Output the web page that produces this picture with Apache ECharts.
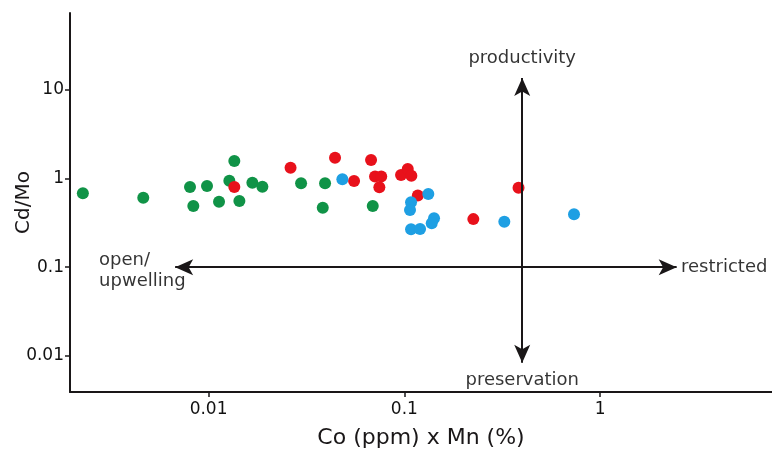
<!DOCTYPE html>
<html>
<head>
<meta charset="utf-8">
<script src="https://cdn.jsdelivr.net/npm/echarts@6/dist/echarts.min.js"></script>
<style>
  html, body { margin: 0; padding: 0; background: #fff; }
  #main { width: 772px; height: 450px; }
</style>
</head>
<body>
<div id="main"></div>
<script>
// Co(ppm) x Mn(%) vs Cd/Mo, three sample groups
var greenPts = [
  [0.00228, 0.678], [0.00464, 0.605], [0.00804, 0.798], [0.00836, 0.488], [0.00982, 0.819],
  [0.01354, 1.565], [0.01277, 0.940], [0.01674, 0.892], [0.01883, 0.804], [0.01131, 0.545],
  [0.01437, 0.555], [0.02969, 0.878], [0.03936, 0.878], [0.03831, 0.467], [0.06897, 0.488]
];
var redPts = [
  [0.01354, 0.798], [0.02623, 1.316], [0.04426, 1.705], [0.05535, 0.932], [0.06760, 1.606],
  [0.07086, 1.048], [0.07621, 1.048], [0.07453, 0.792], [0.09619, 1.089], [0.1041, 1.272],
  [0.1086, 1.070], [0.1172, 0.640], [0.2251, 0.347], [0.3831, 0.784]
];
var bluePts = [
  [0.04824, 0.974], [0.1326, 0.666], [0.1082, 0.537], [0.1069, 0.440], [0.1418, 0.355],
  [0.1380, 0.312], [0.1082, 0.267], [0.1203, 0.269], [0.3241, 0.325], [0.7356, 0.394]
];

// axis ranges and labelled ticks
var xRange = [0.00196, 7.55];
var yRange = [0.00394, 72.3];
var tickLabels = ['0.01', '0.1', '1', '10'];

// arrows (data coords, tip to tip) and annotation texts
var vArrow = [[0.4, 13.4], [0.4, 0.0084]];
var hArrow = [[0.00675, 0.1], [2.46, 0.1]];
var notes = [
  { name: 'productivity', value: [0.4, 22.6], align: 'center' },
  { name: 'preservation', value: [0.4, 0.00538], align: 'center' },
  { name: 'restricted', value: [2.59, 0.1], align: 'left' },
  { name: 'open/\nupwelling', value: [0.00276, 0.0906], align: 'left' }
];

var txtFont = 'DejaVu Sans';
var ink = '#1a1718';

function tickFmt(v) {
  var s = String(+v.toPrecision(6));
  return tickLabels.indexOf(s) >= 0 ? s : '';
}

var chart = echarts.init(document.getElementById('main'));
var option = {
  animation: false,
  backgroundColor: '#fff',
  grid: { left: 70, right: 0, top: 13, bottom: 58, outerBoundsMode: 'none', containLabel: false },
  xAxis: {
    type: 'log',
    logBase: 10,
    min: xRange[0],
    max: xRange[1],
    name: 'Co (ppm) x Mn (%)',
    nameLocation: 'middle',
    nameGap: 35,
    nameMoveOverlap: false,
    nameTextStyle: { fontFamily: txtFont, fontSize: 22, color: ink },
    axisLine: { lineStyle: { color: ink, width: 2 } },
    axisTick: { length: 5, lineStyle: { color: ink, width: 1.5 } },
    axisLabel: { formatter: tickFmt, fontFamily: txtFont, fontSize: 17, color: '#111', margin: 9, showMinLabel: false, showMaxLabel: false },
    splitLine: { show: false }
  },
  yAxis: {
    type: 'log',
    logBase: 10,
    min: yRange[0],
    max: yRange[1],
    name: 'Cd/Mo',
    nameLocation: 'middle',
    nameGap: 36,
    nameMoveOverlap: false,
    nameTextStyle: { fontFamily: txtFont, fontSize: 20, color: ink },
    axisLine: { lineStyle: { color: ink, width: 2 } },
    axisTick: { length: 5, lineStyle: { color: ink, width: 1.5 } },
    axisLabel: { formatter: tickFmt, fontFamily: txtFont, fontSize: 17, color: '#111', margin: 6, showMinLabel: false, showMaxLabel: false },
    splitLine: { show: false }
  },
  series: [
    {
      name: 'arrows',
      type: 'scatter',
      data: [],
      silent: true,
      markLine: {
        silent: true,
        symbol: ['arrow', 'arrow'],
        symbolSize: [12, 18],
        label: { show: false },
        lineStyle: { color: ink, width: 2, type: 'solid' },
        data: [
          [{ coord: vArrow[0] }, { coord: vArrow[1] }],
          [{ coord: hArrow[0] }, { coord: hArrow[1] }]
        ]
      }
    },
    {
      name: 'green',
      type: 'scatter',
      symbolSize: 12,
      itemStyle: { color: '#109347', opacity: 1 },
      data: greenPts
    },
    {
      name: 'red',
      type: 'scatter',
      symbolSize: 12,
      itemStyle: { color: '#e8111b', opacity: 1 },
      data: redPts
    },
    {
      name: 'blue',
      type: 'scatter',
      symbolSize: 12,
      itemStyle: { color: '#1e9fe3', opacity: 1 },
      data: bluePts
    },
    {
      name: 'notes',
      type: 'scatter',
      symbolSize: 0,
      silent: true,
      data: notes.map(function (n) {
        return {
          name: n.name,
          value: n.value,
          label: { align: n.align }
        };
      }),
      label: {
        show: true,
        position: [0, 0],
        verticalAlign: 'middle',
        formatter: '{b}',
        fontFamily: txtFont,
        fontSize: 18,
        lineHeight: 21,
        color: '#000'
      }
    }
  ]
};
chart.setOption(option);
</script>
</body>
</html>
